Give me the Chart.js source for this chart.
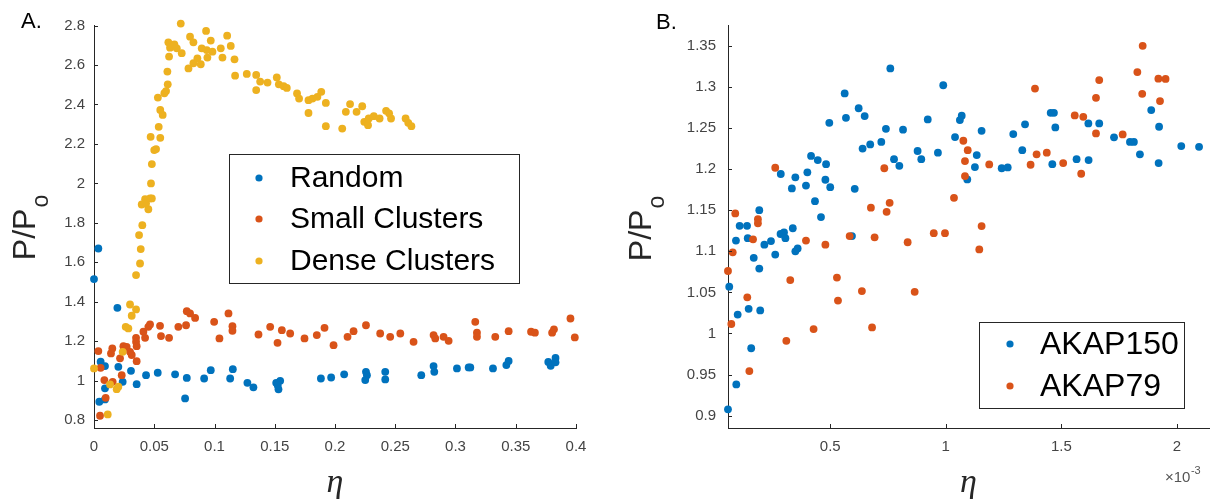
<!DOCTYPE html>
<html>
<head>
<meta charset="utf-8">
<script src="https://cdn.jsdelivr.net/npm/chart.js@4.4.1/dist/chart.umd.min.js"></script>
<style>
  html, body { margin: 0; padding: 0; background: #fff; }
  #wrap { position: relative; width: 1216px; height: 503px; }
  .panel { position: absolute; top: 0; width: 608px; height: 503px; }
</style>
</head>
<body>
<div id="wrap">
  <div class="panel" style="left:0"><canvas id="chartA" width="608" height="503"></canvas></div>
  <div class="panel" style="left:608px"><canvas id="chartB" width="608" height="503"></canvas></div>
</div>
<script>
// ---------- Panel A: simulated distributions ----------
const randomEta = [0.0036, 0.0, 0.0194, 0.0055, 0.0091, 0.0202, 0.0307, 0.0238, 0.0354, 0.0091, 0.0044, 0.0091,
  0.0432, 0.0529, 0.0673, 0.077, 0.0756, 0.0914, 0.0969, 0.113, 0.1152, 0.1273, 0.1323, 0.1512, 0.1545, 0.1531,
  0.1525, 0.1883, 0.1968, 0.2076, 0.2257, 0.2265, 0.2251, 0.2417, 0.2417, 0.2716, 0.2818, 0.2824, 0.3012, 0.3109,
  0.3123, 0.3311, 0.3422, 0.3441, 0.377, 0.379, 0.383, 0.383];
const randomP = [1.67, 1.515, 1.369, 1.096, 1.074, 1.07, 1.05, 0.994, 0.982, 0.961, 0.893, 0.905,
  1.028, 1.04, 1.032, 1.014, 0.91, 1.011, 1.053, 1.011, 1.058, 0.989, 0.966, 0.989, 0.999, 0.956,
  0.976, 1.011, 1.016, 1.032, 1.045, 1.028, 1.003, 1.045, 1.006, 1.028, 1.074, 1.045, 1.062, 1.067,
  1.067, 1.062, 1.079, 1.1, 1.095, 1.075, 1.115, 1.093];

const smallEta = [0.0036, 0.0055, 0.0086, 0.0155, 0.0097, 0.005, 0.0152, 0.0141, 0.0216, 0.0244, 0.0271, 0.023,
  0.0299, 0.0313, 0.0354, 0.0349, 0.0349, 0.0354, 0.041, 0.0424, 0.0451, 0.0465, 0.0548, 0.0556, 0.0623, 0.07,
  0.0764, 0.077, 0.0797, 0.0839, 0.0997, 0.1041, 0.1116, 0.1149, 0.1149, 0.1365, 0.1462, 0.1523, 0.1559, 0.1628,
  0.1747, 0.1849, 0.1913, 0.1988, 0.2104, 0.2154, 0.2257, 0.2375, 0.2458, 0.2542, 0.2652, 0.2818, 0.2832, 0.2901,
  0.2943, 0.3164, 0.3178, 0.3178, 0.333, 0.3441, 0.3627, 0.3659, 0.3802, 0.3817, 0.3954, 0.399];
const smallP = [1.15, 1.065, 1.003, 0.994, 0.913, 0.822, 1.163, 1.138, 1.113, 1.175, 1.171, 1.028,
  1.146, 1.13, 1.099, 1.217, 1.197, 1.175, 1.248, 1.217, 1.273, 1.285, 1.278, 1.226, 1.217, 1.273,
  1.281, 1.352, 1.341, 1.318, 1.298, 1.214, 1.341, 1.276, 1.253, 1.234, 1.273, 1.192, 1.256, 1.239,
  1.214, 1.231, 1.268, 1.18, 1.222, 1.251, 1.281, 1.239, 1.222, 1.239, 1.197, 1.231, 1.214, 1.222,
  1.202, 1.298, 1.243, 1.222, 1.222, 1.251, 1.248, 1.243, 1.243, 1.26, 1.315, 1.219];

const denseEta = [0.0114, 0.0133, 0.0188, 0.0202, 0.0, 0.0238, 0.0263, 0.0285, 0.0313, 0.0299, 0.0349, 0.0349,
  0.0382, 0.0388, 0.0374, 0.0401, 0.0451, 0.0396, 0.0432, 0.0424, 0.0465, 0.048, 0.0473, 0.048, 0.050, 0.0515,
  0.047, 0.055, 0.0537, 0.057, 0.055, 0.053, 0.0584, 0.0598, 0.0612, 0.0609, 0.0623, 0.0617, 0.0631, 0.0667,
  0.0687, 0.0728, 0.072, 0.0797, 0.0825, 0.0784, 0.0825, 0.0858, 0.0886, 0.0894, 0.0936, 0.0941, 0.0983, 0.093,
  0.0969, 0.1052, 0.1066, 0.1105, 0.1135, 0.1166, 0.1171, 0.1268, 0.1346, 0.1346, 0.1379, 0.144, 0.1517, 0.1534,
  0.1574, 0.16, 0.1685, 0.1702, 0.178, 0.178, 0.1813, 0.1854, 0.1886, 0.1924, 0.1924, 0.206, 0.209, 0.2125,
  0.2179, 0.2226, 0.2243, 0.2274, 0.228, 0.2322, 0.237, 0.2424, 0.2449, 0.2465, 0.2586, 0.2608, 0.2634];
const denseP = [0.829, 0.981, 0.957, 0.969, 1.062, 1.146, 1.273, 1.265, 1.329, 1.386, 1.361, 1.535,
  1.594, 1.667, 1.738, 1.788, 1.869, 1.893, 1.898, 1.92, 1.924, 1.924, 2.0, 2.098, 2.169, 2.174,
  2.236, 2.231, 2.287, 2.347, 2.372, 2.435, 2.457, 2.468, 2.502, 2.567, 2.643, 2.715, 2.688, 2.705,
  2.685, 2.66, 2.81, 2.744, 2.715, 2.583, 2.609, 2.634, 2.604, 2.685, 2.676, 2.638, 2.668, 2.773,
  2.724, 2.685, 2.638, 2.749, 2.697, 2.629, 2.546, 2.555, 2.55, 2.473, 2.516, 2.511, 2.537, 2.502,
  2.493, 2.484, 2.456, 2.43, 2.357, 2.422, 2.43, 2.439, 2.464, 2.408, 2.29, 2.278, 2.363, 2.402,
  2.363, 2.391, 2.312, 2.295, 2.329, 2.341, 2.329, 2.368, 2.355, 2.329, 2.329, 2.307, 2.29];

const panelAXTicks = [0, 0.05, 0.1, 0.15, 0.2, 0.25, 0.3, 0.35, 0.4];
const panelAXLabels = ['0', '0.05', '0.1', '0.15', '0.2', '0.25', '0.3', '0.35', '0.4'];
const panelAYTicks = [0.8, 1, 1.2, 1.4, 1.6, 1.8, 2, 2.2, 2.4, 2.6, 2.8];
const panelAYLabels = ['0.8', '1', '1.2', '1.4', '1.6', '1.8', '2', '2.2', '2.4', '2.6', '2.8'];

// ---------- Panel B: AKAP measurements (eta in units of 10^-3) ----------
const akap150Eta = [0.760, 0.5625, 0.623, 0.649, 0.568, 0.496, 0.922, 0.741, 0.815, 0.721, 0.673, 0.640,
  0.878, 0.966, 0.894, 0.776, 0.799, 0.417, 0.446, 0.482, 0.286, 0.349, 0.401, 0.334, 0.395, 0.479,
  0.500, 0.606, 0.434, 0.460, 0.193, 0.108, 0.140, 0.338, 0.285, 0.300, 0.306, 0.2436, 0.215, 0.143,
  0.092, 0.169, 0.262, 0.349, 0.359, 0.193, 0.594, 0.063, 0.0995, 0.147, 0.197, 0.158, 0.0935, 0.0575,
  0.989, 1.069, 1.061, 1.040, 1.155, 1.134, 1.126, 1.093, 1.292, 1.343, 1.331, 1.242, 1.268, 1.454,
  1.468, 1.474, 1.461, 1.566, 1.618, 1.617, 1.664, 1.728, 1.797, 1.814, 1.840, 1.889, 1.923, 1.921,
  2.019, 2.096];
const akap150P = [1.3225, 1.292, 1.274, 1.2645, 1.2624, 1.2563, 1.2604, 1.249, 1.248, 1.233, 1.230, 1.225,
  1.222, 1.220, 1.212, 1.212, 1.204, 1.216, 1.211, 1.206, 1.194, 1.190, 1.196, 1.1765, 1.180, 1.187,
  1.178, 1.176, 1.161, 1.1416, 1.150, 1.131, 1.131, 1.128, 1.121, 1.123, 1.116, 1.1124, 1.108, 1.116,
  1.113, 1.092, 1.096, 1.100, 1.1035, 1.079, 1.1185, 1.057, 1.023, 1.030, 1.028, 0.982, 0.938, 0.9077,
  1.302, 1.265, 1.2596, 1.239, 1.2466, 1.217, 1.2024, 1.1874, 1.2426, 1.2544, 1.223, 1.201, 1.202, 1.2685,
  1.2685, 1.2507, 1.206, 1.212, 1.211, 1.2556, 1.2556, 1.2386, 1.233, 1.233, 1.218, 1.2718, 1.2515, 1.2073,
  1.228, 1.2271];

const akap79Eta = [0.262, 0.734, 0.676, 0.757, 0.744, 0.089, 0.187, 0.187, 0.166, 0.395, 0.479, 0.584,
  0.692, 0.835, 0.948, 0.078, 0.0575, 0.327, 0.529, 0.637, 0.8654, 0.5335, 0.141, 0.072, 0.428, 0.681,
  0.310, 0.150, 1.386, 1.852, 1.829, 1.920, 1.951, 1.664, 1.850, 1.650, 1.927, 1.558, 1.595, 1.650,
  1.7655, 1.076, 1.095, 1.083, 1.083, 1.188, 1.393, 1.437, 1.367, 1.508, 1.586, 1.0355, 0.9965, 1.155,
  1.145];
const akap79P = [1.2016, 1.201, 1.153, 1.159, 1.148, 1.146, 1.139, 1.134, 1.1145, 1.113, 1.108, 1.1185,
  1.117, 1.111, 1.122, 1.0987, 1.076, 1.065, 1.068, 1.0516, 1.0507, 1.040, 1.044, 1.0115, 1.0053, 1.0074,
  0.991, 0.9543, 1.298, 1.350, 1.318, 1.310, 1.3097, 1.3083, 1.2916, 1.2867, 1.2827, 1.2653, 1.2636, 1.2434,
  1.2422, 1.2345, 1.223, 1.2097, 1.1915, 1.2057, 1.218, 1.220, 1.2053, 1.2073, 1.1943, 1.165, 1.122, 1.1307,
  1.1023];

const panelBXTicks = [0.5, 1, 1.5, 2];
const panelBXLabels = ['0.5', '1', '1.5', '2'];
const panelBYTicks = [0.9, 0.95, 1, 1.05, 1.1, 1.15, 1.2, 1.25, 1.3, 1.35];
const panelBYLabels = ['0.9', '0.95', '1', '1.05', '1.1', '1.15', '1.2', '1.25', '1.3', '1.35'];

// ---------- styling ----------
const BLUE = '#0072BD', RED = '#D95319', YELLOW = '#EDB120';
const AXIS = '#262626', TICK_TEXT = '#444444';
const SANS = '"Liberation Sans", Arial, Helvetica, sans-serif';
const SERIF = '"Liberation Serif", "Times New Roman", serif';
const TICK_LEN = 4;

const toPoints = (xs, ys) => xs.map((x, i) => ({ x: x, y: ys[i] }));
const dotSet = (label, xs, ys, color, order) => ({
  label, data: toPoints(xs, ys), backgroundColor: color, borderWidth: 0,
  pointRadius: 3.9, pointHoverRadius: 3.9, clip: false, order
});

// inward tick marks, panel letter, y-axis label with subscript, boxed legend, exponent
const panelDecor = {
  id: 'panelDecor',
  afterDraw(chart, args, o) {
    const ctx = chart.ctx, a = chart.chartArea;
    const xs = chart.scales.x, ys = chart.scales.y;
    ctx.save();
    ctx.strokeStyle = AXIS; ctx.lineWidth = 1;
    ctx.beginPath();
    xs.ticks.forEach(t => {
      const px = Math.round(xs.getPixelForValue(t.value)) + 0.5;
      ctx.moveTo(px, a.bottom); ctx.lineTo(px, a.bottom - TICK_LEN);
    });
    ys.ticks.forEach(t => {
      const py = Math.round(ys.getPixelForValue(t.value)) + 0.5;
      ctx.moveTo(a.left, py); ctx.lineTo(a.left + TICK_LEN, py);
    });
    ctx.stroke();

    // panel letter
    ctx.fillStyle = '#000';
    ctx.font = '22px ' + SANS;
    ctx.textAlign = 'left'; ctx.textBaseline = 'alphabetic';
    ctx.fillText(o.letter, o.letterX, o.letterY);

    // y-axis label P/P with subscript o, rotated
    ctx.save();
    ctx.translate(o.ylabX, o.ylabY);
    ctx.rotate(-Math.PI / 2);
    ctx.fillStyle = AXIS;
    const mainFont = '32px ' + SANS, subFont = '23px ' + SANS;
    ctx.font = mainFont; const wMain = ctx.measureText('P/P').width;
    ctx.font = subFont; const wSub = ctx.measureText('o').width;
    const x0 = -(wMain + wSub) / 2;
    ctx.font = mainFont; ctx.fillText('P/P', x0, 0);
    ctx.font = subFont; ctx.fillText('o', x0 + wMain + 1, 13);
    ctx.restore();

    // boxed legend
    const L = o.legend;
    ctx.fillStyle = '#fff';
    ctx.fillRect(L.x0, L.y0, L.x1 - L.x0, L.y1 - L.y0);
    ctx.strokeStyle = AXIS; ctx.lineWidth = 1;
    ctx.strokeRect(L.x0 + 0.5, L.y0 + 0.5, L.x1 - L.x0, L.y1 - L.y0);
    ctx.font = L.fontSize + 'px ' + SANS;
    ctx.textBaseline = 'middle'; ctx.textAlign = 'left';
    chart.data.datasets.forEach((ds, i) => {
      const y = L.rows[i];
      ctx.fillStyle = ds.backgroundColor;
      ctx.beginPath(); ctx.arc(L.markerX, y, 3.6, 0, Math.PI * 2); ctx.fill();
      ctx.fillStyle = '#000';
      ctx.fillText(ds.label, L.textX, y + 1);
    });

    // axis exponent
    if (o.exponent) {
      const e = o.exponent;
      ctx.fillStyle = '#555';
      ctx.textBaseline = 'alphabetic';
      ctx.font = '15px ' + SANS;
      ctx.fillText('\u00d710', e.x, e.y);
      const w = ctx.measureText('\u00d710').width;
      ctx.font = '11px ' + SANS;
      ctx.fillText(e.power, e.x + w + 0.5, e.y - 8);
    }
    ctx.restore();
  }
};

function makePanel(id, cfg) {
  return new Chart(document.getElementById(id), {
    type: 'scatter',
    data: { datasets: cfg.datasets },
    options: {
      responsive: false, animation: false, events: [],
      layout: { padding: cfg.padding },
      plugins: { legend: { display: false }, tooltip: { enabled: false }, panelDecor: cfg.decor },
      scales: {
        x: {
          type: 'linear', min: cfg.xMin, max: cfg.xMax,
          afterFit: s => { s.height = cfg.xAxisHeight; },
          afterBuildTicks: s => { s.ticks = cfg.xTicks.map(v => ({ value: v })); },
          ticks: { callback: (v, i) => cfg.xLabels[i], color: TICK_TEXT, font: { family: SANS, size: 15 },
                   padding: 10, maxRotation: 0, autoSkip: false },
          grid: { display: false, drawTicks: false },
          border: { display: true, color: AXIS, width: 1 },
          title: { display: true, text: '\u03b7', color: AXIS,
                   font: { family: SERIF, size: 34, style: 'italic' }, padding: { top: 0, bottom: 0 } }
        },
        y: {
          type: 'linear', min: cfg.yMin, max: cfg.yMax,
          afterFit: s => { s.width = cfg.yAxisWidth; },
          afterBuildTicks: s => { s.ticks = cfg.yTicks.map(v => ({ value: v })); },
          ticks: { callback: (v, i) => cfg.yLabels[i], color: TICK_TEXT, font: { family: SANS, size: 15 },
                   padding: cfg.yTickPad, autoSkip: false },
          grid: { display: false, drawTicks: false },
          border: { display: true, color: AXIS, width: 1 }
        }
      }
    },
    plugins: [panelDecor]
  });
}

makePanel('chartA', {
  datasets: [
    dotSet('Random', randomEta, randomP, BLUE, 3),
    dotSet('Small Clusters', smallEta, smallP, RED, 2),
    dotSet('Dense Clusters', denseEta, denseP, YELLOW, 1)
  ],
  padding: { top: 25, right: 32, bottom: 0, left: 0 },
  xMin: 0, xMax: 0.4, yMin: 0.76, yMax: 2.803,
  xTicks: panelAXTicks, xLabels: panelAXLabels, yTicks: panelAYTicks, yLabels: panelAYLabels,
  xAxisHeight: 75, yAxisWidth: 94, yTickPad: 9,
  decor: {
    letter: 'A.', letterX: 21, letterY: 28,
    ylabX: 35, ylabY: 228,
    legend: { x0: 229, y0: 154, x1: 519, y1: 283, markerX: 259, rows: [178, 219, 261], textX: 290, fontSize: 30 }
  }
});

makePanel('chartB', {
  datasets: [
    dotSet('AKAP150', akap150Eta, akap150P, BLUE, 2),
    dotSet('AKAP79', akap79Eta, akap79P, RED, 1)
  ],
  padding: { top: 25, right: 7, bottom: 0, left: 0 },
  xMin: 0.0576, xMax: 2.139, yMin: 0.885, yMax: 1.3753,
  xTicks: panelBXTicks, xLabels: panelBXLabels, yTicks: panelBYTicks, yLabels: panelBYLabels,
  xAxisHeight: 75, yAxisWidth: 120, yTickPad: 12,
  decor: {
    letter: 'B.', letterX: 48, letterY: 29,
    ylabX: 43, ylabY: 229,
    legend: { x0: 371, y0: 322, x1: 576, y1: 408, markerX: 402, rows: [344, 386], textX: 432, fontSize: 32 },
    exponent: { x: 557, y: 482, power: '-3' }
  }
});
</script>
</body>
</html>
